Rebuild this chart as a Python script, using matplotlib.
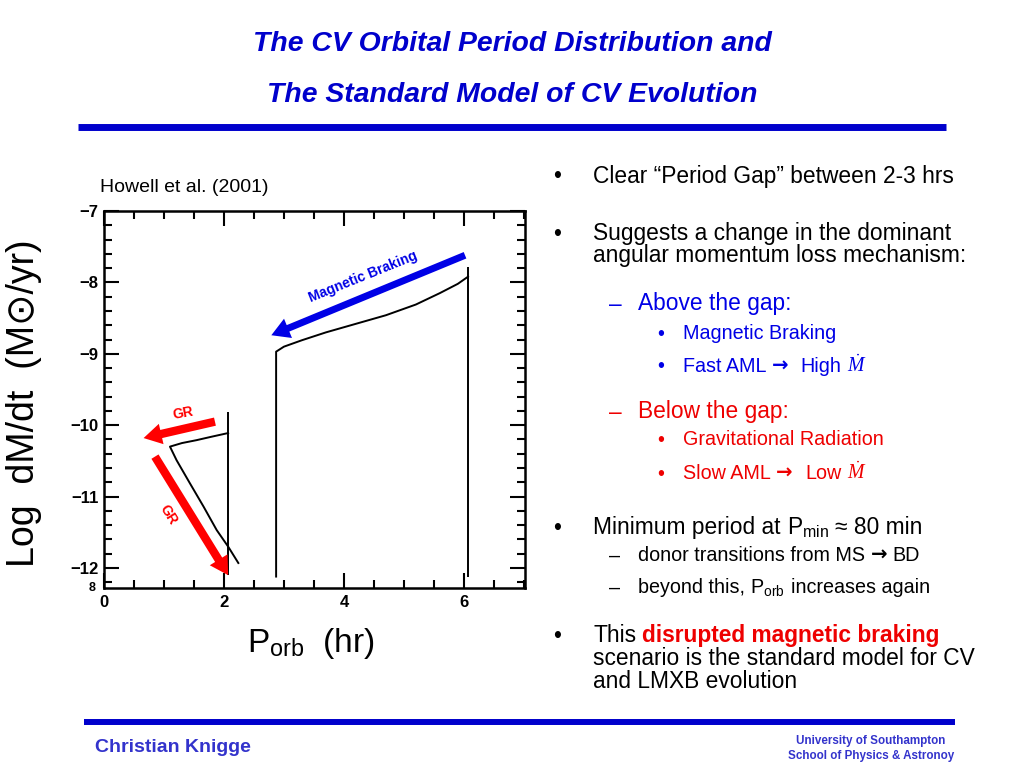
import matplotlib
matplotlib.use("Agg")
import matplotlib.pyplot as plt
from matplotlib.patches import FancyArrowPatch
from matplotlib.ticker import MultipleLocator

upper_p = [2.87, 2.87, 3.0, 3.3, 3.7, 4.2, 4.7, 5.2, 5.6, 5.9, 6.07]
upper_mdot = [-12.12, -8.97, -8.90, -8.81, -8.70, -8.58, -8.46, -8.31, -8.15, -8.02, -7.92]

lower_p = [2.07, 1.80, 1.54, 1.30, 1.10, 1.21, 1.43, 1.66, 1.88, 2.07, 2.24]
lower_mdot = [-10.11, -10.16, -10.21, -10.25, -10.30, -10.49, -10.81, -11.14, -11.47, -11.70, -11.93]

# vertical start tracks
start_p = [2.07, 6.07]
start_top = [-9.81, -7.78]
start_bottom = [-12.10, -12.12]

# annotation arrows (tail -> head)
arrow_tail_p = [6.02, 1.85, 0.85]
arrow_tail_mdot = [-7.62, -9.95, -10.44]
arrow_head_p = [2.79, 0.66, 2.07]
arrow_head_mdot = [-8.74, -10.18, -12.10]
arrow_colors = ["#0000E6", "#FF0000", "#FF0000"]
arrow_tails = [0.5, 0.6, 0.6]

arrow_labels = ["Magnetic Braking", "GR", "GR"]
label_p = [4.32, 1.32, 1.07]
label_mdot = [-7.92, -9.83, -11.26]
label_rot = [22, 10, -58]

BLUE = "#0000CC"
BODY_BLUE = "#0000E6"
RED = "#EE0000"
FOOT_BLUE = "#3333CC"
BIG, SMALL = 16.4, 14.2
ARROW = "\u2192"

plt.rcParams["font.family"] = ["Liberation Sans", "DejaVu Sans"]
plt.rcParams["mathtext.fontset"] = "custom"
plt.rcParams["mathtext.rm"] = "Liberation Sans"
plt.rcParams["mathtext.it"] = "Liberation Serif:italic"
plt.rcParams["mathtext.bf"] = "Liberation Sans:bold"

fig = plt.figure(figsize=(10.24, 7.68), dpi=100)
renderer = fig.canvas.get_renderer()

# slide layer in pixel coordinates
bg = fig.add_axes([0, 0, 1, 1])
bg.set_xlim(0, 1024)
bg.set_ylim(768, 0)
bg.axis("off")


def line(x, yc, runs, size):
    """Write a row of differently styled runs on one baseline; yc is the row centre."""
    px = size * 100 / 72
    base = yc + 0.36 * px
    for run in runs:
        txt, col, weight = run[:3]
        spaces = run[3] if len(run) > 3 else 1
        if txt == ARROW:
            t = bg.text(x, base, txt, fontsize=size, color=col, fontweight="bold",
                        family="DejaVu Sans", va="baseline")
        else:
            t = bg.text(x, base, txt, fontsize=size, color=col, fontweight=weight, va="baseline")
        bb = t.get_window_extent(renderer)
        x = bg.transData.inverted().transform((bb.x1, bb.y0))[0] + spaces * 0.278 * px


bg.text(512, 44, "The CV Orbital Period Distribution and", fontsize=20.4, fontweight="bold",
        style="italic", color=BLUE, ha="center", va="center")
bg.text(512, 95, "The Standard Model of CV Evolution", fontsize=20.4, fontweight="bold",
        style="italic", color=BLUE, ha="center", va="center")
bg.hlines(127, 78, 946, color=BLUE, lw=5)
bg.hlines(722, 84, 955, color=BLUE, lw=4.3)

bg.text(100, 188, "Howell et al. (2001)", fontsize=14, color="black", va="center")

# bullet rows: (level, y centre, runs, size)
rows = [
    (1, 175, [("Clear \u201cPeriod Gap\u201d between 2-3 hrs", "black", "normal")], BIG),
    (1, 232, [("Suggests a change in the dominant", "black", "normal")], BIG),
    (0, 254, [("angular momentum loss mechanism:", "black", "normal")], BIG),
    (2, 302, [("Above the gap:", BODY_BLUE, "normal")], BIG),
    (3, 332, [("Magnetic Braking", BODY_BLUE, "normal")], SMALL),
    (3, 365, [("Fast AML", BODY_BLUE, "normal"), (ARROW, BODY_BLUE, "bold", 2.2),
              ("High", BODY_BLUE, "normal"), (r"$\dot{M}$", BODY_BLUE, "normal")], SMALL),
    (2, 410, [("Below the gap:", RED, "normal")], BIG),
    (3, 438, [("Gravitational Radiation", RED, "normal")], SMALL),
    (3, 472, [("Slow AML", RED, "normal"), (ARROW, RED, "bold", 2.2),
              ("Low", RED, "normal"), (r"$\dot{M}$", RED, "normal")], SMALL),
    (1, 526, [("Minimum period at", "black", "normal"), (r"$\mathrm{P}_{\mathrm{min}}$", "black", "normal"),
              ("\u2248 80 min", "black", "normal")], BIG),
    (2, 554, [("donor transitions from MS", "black", "normal"), (ARROW, "black", "bold"),
              ("BD", "black", "normal")], SMALL),
    (2, 586, [("beyond this,", "black", "normal"), (r"$\mathrm{P}_{\mathrm{orb}}$", "black", "normal"),
              ("increases again", "black", "normal")], SMALL),
    (1, 634, [("This", "black", "normal"), ("disrupted magnetic braking", RED, "bold")], BIG),
    (0, 657, [("scenario is the standard model for CV", "black", "normal")], BIG),
    (0, 680, [("and LMXB evolution", "black", "normal")], BIG),
]
marks = {1: ("\u2022", 553, 593), 2: ("\u2013", 609, 638), 3: ("\u2022", 657, 683), 0: (None, None, 593)}
for level, y, runs, size in rows:
    mark, mx, tx = marks[level]
    if mark:
        bg.text(mx, y + 2, mark, fontsize=size, color=runs[0][1], va="center")
    line(tx, y, runs, size)

bg.text(95, 748, "Christian Knigge", fontsize=14, fontweight="bold", color=FOOT_BLUE, va="center")
bg.text(871, 741, "University of Southampton", fontsize=8.4, fontweight="bold", color=FOOT_BLUE,
        ha="center", va="center")
bg.text(871, 756, "School of Physics & Astronoy", fontsize=8.4, fontweight="bold", color=FOOT_BLUE,
        ha="center", va="center")

# --- the plot itself ---
ax = fig.add_axes([104 / 1024, 1 - 588 / 768, (525 - 104) / 1024, (588 - 211) / 768])
ax.plot(upper_p, upper_mdot, color="black", lw=1.4)
ax.plot(lower_p, lower_mdot, color="black", lw=1.4)
ax.vlines(start_p, start_bottom, start_top, color="black", lw=1.4)

for tp, tm, hp, hm, c, tw in zip(arrow_tail_p, arrow_tail_mdot, arrow_head_p, arrow_head_mdot,
                                 arrow_colors, arrow_tails):
    ax.add_patch(FancyArrowPatch((tp, tm), (hp, hm), color=c, lw=0,
                                 arrowstyle=f"simple,head_length=1.3,head_width=1.5,tail_width={tw}",
                                 mutation_scale=10, shrinkA=0, shrinkB=0, zorder=3))
for txt, p, m, r, c in zip(arrow_labels, label_p, label_mdot, label_rot, arrow_colors):
    ax.text(p, m, txt, rotation=r, color=c, fontsize=10, fontweight="bold", ha="center", va="center",
            rotation_mode="anchor")

ax.set_xlim(0, 7.02)
ax.set_ylim(-12.28, -7)
ax.xaxis.set_major_locator(MultipleLocator(2))
ax.xaxis.set_minor_locator(MultipleLocator(0.5))
ax.yaxis.set_major_locator(MultipleLocator(1))
ax.yaxis.set_minor_locator(MultipleLocator(0.2))
ax.tick_params(which="both", direction="in", top=True, right=True, width=1.5, labelsize=12)
ax.tick_params(which="major", length=11)
ax.tick_params(which="minor", length=6)
ax.tick_params(axis="y", pad=4)
ax.tick_params(axis="x", pad=5)
for lab in ax.get_xticklabels() + ax.get_yticklabels():
    lab.set_fontweight("bold")
for s in ax.spines.values():
    s.set_linewidth(1.8)

ax.set_ylabel("Log  dM/dt  (M\u2299/yr)", fontsize=27, va="center")
ax.yaxis.set_label_coords(-0.19, 0.49)
ax.set_xlabel("P$_{\\rm orb}$  (hr)", fontsize=24, va="center")
ax.xaxis.set_label_coords(0.49, -0.146)

bg.text(92, 588, "8", fontsize=9, fontweight="bold", ha="center", va="center")

fig.savefig("out.png", dpi=100)
